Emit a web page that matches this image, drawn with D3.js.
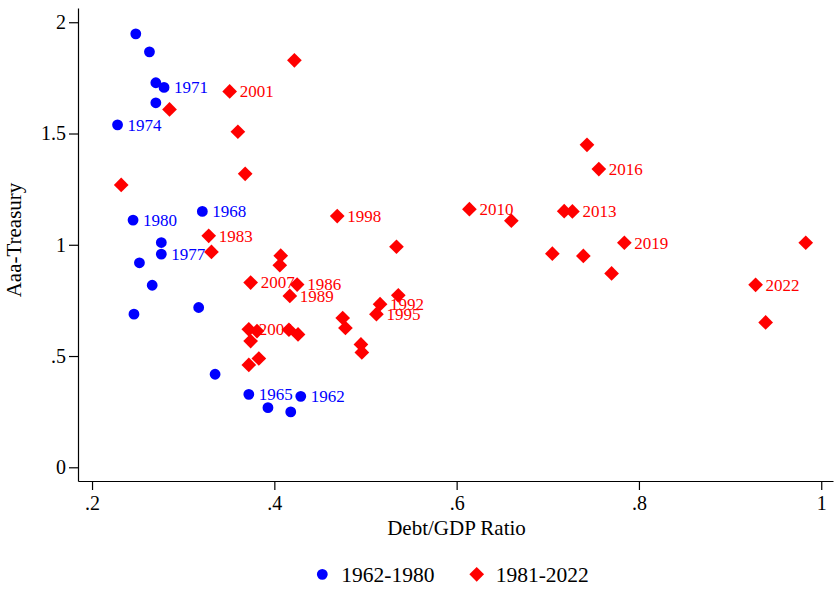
<!DOCTYPE html>
<html>
<head>
<meta charset="utf-8">
<script src="https://cdn.jsdelivr.net/npm/d3@7"></script>
<style>
  body { margin: 0; background: #fff; }
  text { font-family: "Liberation Serif", "Times New Roman", serif; }
</style>
</head>
<body>
<div id="chart"></div>
<script>
// Data.
var earlyYears = [1962, 1963, 1964, 1965, 1966, 1967, 1968, 1969, 1970, 1971,
                  1972, 1973, 1974, 1975, 1976, 1977, 1978, 1979, 1980];
var earlyDebt = [0.429, 0.418, 0.393, 0.372, 0.335, 0.317, 0.321, 0.276, 0.270, 0.279,
                 0.270, 0.263, 0.228, 0.248, 0.266, 0.276, 0.252, 0.246, 0.245];
var earlySpread = [0.319, 0.249, 0.268, 0.328, 0.418, 0.718, 1.150, 1.010, 1.638, 1.707,
                   1.728, 1.867, 1.539, 1.948, 0.818, 0.958, 0.919, 0.688, 1.111];

var lateYears = [1981, 1982, 1983, 1984, 1985, 1986, 1987, 1988, 1989, 1990,
                 1991, 1992, 1993, 1994, 1995, 1996, 1997, 1998, 1999, 2000,
                 2001, 2002, 2003, 2004, 2005, 2006, 2007, 2008, 2009, 2010,
                 2011, 2012, 2013, 2014, 2015, 2016, 2017, 2018, 2019, 2020,
                 2021, 2022];
var lateDebt = [0.232, 0.285, 0.328, 0.331, 0.368, 0.425, 0.407, 0.406, 0.417, 0.426,
                0.534, 0.516, 0.536, 0.475, 0.512, 0.478, 0.495, 0.469, 0.496, 0.422,
                0.351, 0.360, 0.374, 0.372, 0.381, 0.372, 0.374, 0.416, 0.383, 0.614,
                0.660, 0.718, 0.727, 0.743, 0.705, 0.756, 0.739, 0.770, 0.784, 0.983,
                0.939, 0.928];
var lateSpread = [1.269, 1.608, 1.040, 0.968, 1.319, 0.821, 0.951, 0.908, 0.770, 0.597,
                  0.991, 0.733, 0.773, 0.671, 0.688, 0.626, 0.552, 1.129, 0.516, 1.829,
                  1.689, 1.508, 0.567, 0.620, 0.612, 0.460, 0.830, 0.618, 0.489, 1.160,
                  1.108, 1.151, 1.150, 1.449, 0.960, 1.340, 0.950, 0.871, 1.009, 1.009,
                  0.651, 0.820];

var xTicks = [0.2, 0.4, 0.6, 0.8, 1];
var xTickLabels = [".2", ".4", ".6", ".8", "1"];
var yTicks = [0, 0.5, 1, 1.5, 2];
var yTickLabels = ["0", ".5", "1", "1.5", "2"];

var seriesNames = ["1962-1980", "1981-2022"];
var seriesColors = ["#0000ff", "#ff0000"];

// Size.
var width = 835, height = 592;

var svg = d3.select("#chart")
    .append("svg")
    .attr("width", width)
    .attr("height", height);

// Scales (axis lines run from the corner at (78,481) to the frame edges).
var xScale = d3.scaleLinear().domain([0.1846, 1.0129]).range([78, 833]);
var yScale = d3.scaleLinear().domain([-0.0616, 2.064]).range([481, 8]);

// Axes.
svg.append("g")
    .attr("transform", "translate(0,481)")
    .call(d3.axisBottom(xScale)
        .tickValues(xTicks)
        .tickFormat(function(d, i) { return xTickLabels[i]; })
        .tickSize(9)
        .tickSizeOuter(0)
        .tickPadding(6));

svg.append("g")
    .attr("transform", "translate(78,0)")
    .call(d3.axisLeft(yScale)
        .tickValues(yTicks)
        .tickFormat(function(d, i) { return yTickLabels[i]; })
        .tickSize(9)
        .tickSizeOuter(0)
        .tickPadding(3));

svg.selectAll(".tick text")
    .attr("font-family", "Liberation Serif")
    .attr("font-size", 20)
    .attr("fill", "#000");
svg.selectAll(".domain, .tick line").attr("stroke", "#000").attr("stroke-width", 1.2);

// Axis titles.
svg.append("text")
    .attr("x", 456.5)
    .attr("y", 535)
    .attr("text-anchor", "middle")
    .attr("font-size", 21)
    .text("Debt/GDP Ratio");

svg.append("text")
    .attr("transform", "translate(21,240) rotate(-90)")
    .attr("text-anchor", "middle")
    .attr("font-size", 21)
    .text("Aaa-Treasury");

// Build point lists.
function points(years, debt, spread, s) {
    return years.map(function(y, i) {
        return {year: y, x: debt[i], y: spread[i], s: s};
    });
}
var series = [
    points(earlyYears, earlyDebt, earlySpread, 0),
    points(lateYears, lateDebt, lateSpread, 1)
];

var circle = d3.symbol().type(d3.symbolCircle).size(92);
var square = d3.symbol().type(d3.symbolSquare).size(108);

series.forEach(function(data, s) {
    // Year labels, every third year.
    svg.append("g").selectAll("text")
        .data(data.filter(function(d) { return (d.year - 1962) % 3 === 0; }))
        .enter().append("text")
        .attr("x", function(d) { return xScale(d.x) + 10; })
        .attr("y", function(d) { return yScale(d.y); })
        .attr("dy", "0.34em")
        .attr("font-size", 17)
        .attr("fill", seriesColors[s])
        .text(function(d) { return d.year; });

    // Markers: circles for the early years, diamonds for the late ones.
    svg.append("g").selectAll("path")
        .data(data)
        .enter().append("path")
        .attr("fill", seriesColors[s])
        .attr("d", s === 0 ? circle : square)
        .attr("transform", function(d) {
            return "translate(" + xScale(d.x) + "," + yScale(d.y) + ")" + (s === 1 ? " rotate(45)" : "");
        });
});

// Legend.
var legendX = [322.3, 476.7];
var legend = svg.append("g");
seriesNames.forEach(function(name, s) {
    legend.append("path")
        .attr("fill", seriesColors[s])
        .attr("d", s === 0 ? circle : square)
        .attr("transform", "translate(" + legendX[s] + ",574.3)" + (s === 1 ? " rotate(45)" : ""));
    legend.append("text")
        .attr("x", legendX[s] + 19)
        .attr("y", 582)
        .attr("font-size", 21.5)
        .text(name);
});
</script>
</body>
</html>
